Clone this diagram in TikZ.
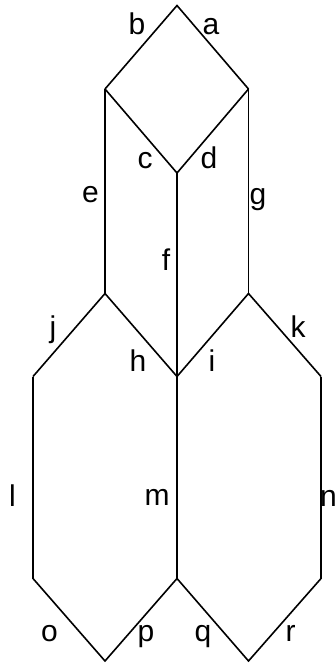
\documentclass[tikz,border=0pt]{standalone}
\usepackage{fontspec}
\setmainfont{Liberation Sans}
\begin{document}
\begin{tikzpicture}[x=1pt,y=-1pt,
  edge/.style={line width=1.6pt,line join=miter},
  lbl/.style={anchor=base,inner sep=0pt,font=\fontsize{30}{30}\selectfont}]
\useasboundingbox (0,0) rectangle (335,665);
% vertices
\coordinate (T) at (177,5.5);
\coordinate (UL) at (105,89);
\coordinate (UR) at (248.5,89);
\coordinate (C1) at (177,173);
\coordinate (ML) at (105,293.5);
\coordinate (MR) at (248.5,293.5);
\coordinate (C2) at (177,376.5);
\coordinate (L1) at (33,376.5);
\coordinate (R1) at (321,376.5);
\coordinate (L2) at (33,578.5);
\coordinate (C3) at (177,578.5);
\coordinate (R2) at (321,578.5);
\coordinate (B1) at (105,661);
\coordinate (B2) at (248.5,661);
% edges
\draw[edge] (UL) -- (T) -- (UR);
\draw[edge] (UL) -- (C1) -- (UR);
\draw[edge] (UL) -- (ML);
\draw[edge] (UR) -- (MR);
\draw[edge] (C1) -- (C2);
\draw[edge] (L1) -- (ML) -- (C2) -- (MR) -- (R1);
\draw[edge] (L1) -- (L2);
\draw[edge] (R1) -- (R2);
\draw[edge] (C2) -- (C3);
\draw[edge] (L2) -- (B1) -- (C3) -- (B2) -- (R2);
% labels
\node[lbl] (la) at (211,34) {a};
\node[lbl] (lb) at (137,34) {b};
\node[lbl] (lc) at (145,168) {c};
\node[lbl] (ld) at (209,168) {d};
\node[lbl] (le) at (90.5,202) {e};
\node[lbl] (lf) at (166,270) {f};
\node[lbl] (lg) at (258,204) {g};
\node[lbl] (lj) at (53,337) {j};
\node[lbl] (lk) at (298,337) {k};
\node[lbl] (lh) at (138,371.5) {h};
\node[lbl] (li) at (212,371) {i};
\node[lbl] (ll) at (12.5,506) {l};
\node[lbl] (lm) at (157,505) {m};
\node[lbl] (ln) at (328.5,506) {n};
\node[lbl] (lo) at (49.5,641.5) {o};
\node[lbl] (lp) at (146,641.5) {p};
\node[lbl] (lq) at (203,641.5) {q};
\node[lbl] (lr) at (290.5,641.5) {r};
\end{tikzpicture}
\end{document}
